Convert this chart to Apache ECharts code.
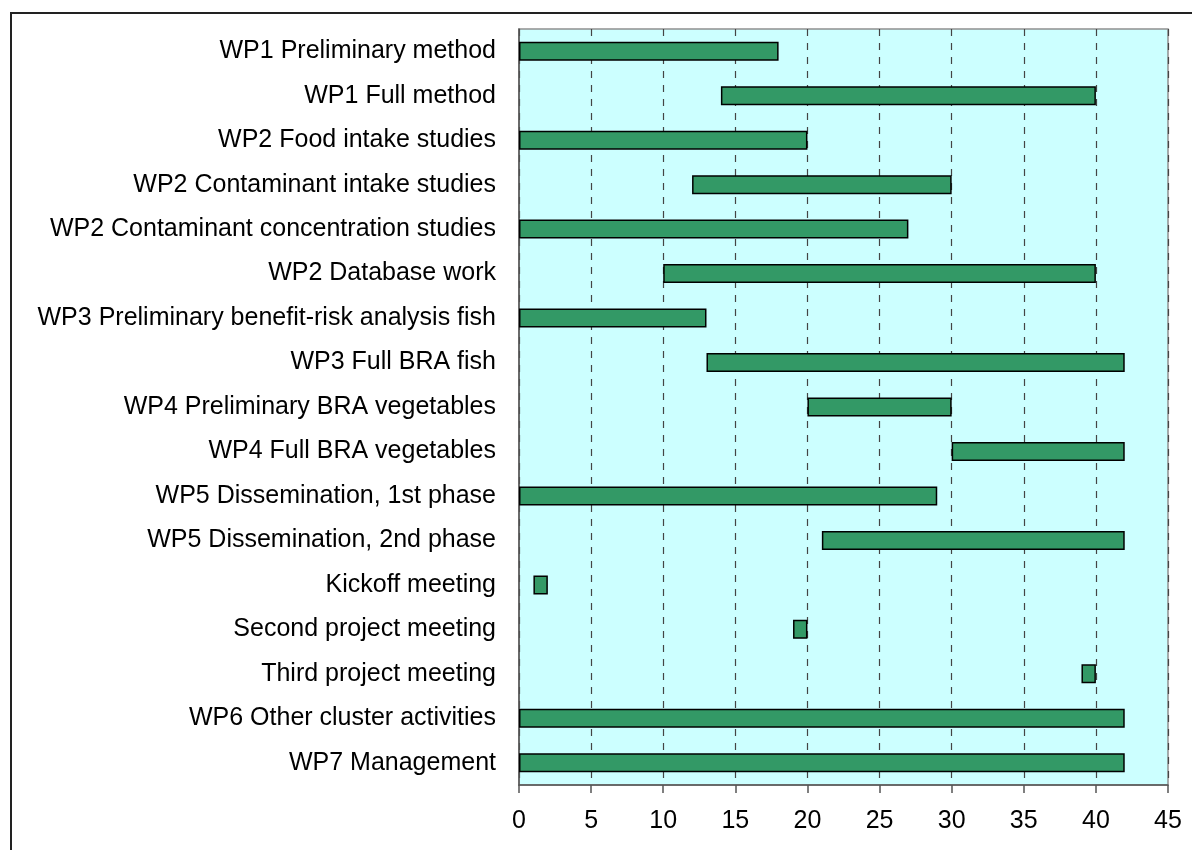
<!DOCTYPE html>
<html>
<head>
<meta charset="utf-8">
<script src="https://cdn.jsdelivr.net/npm/echarts@6/dist/echarts.min.js"></script>
<style>
  html, body { margin: 0; padding: 0; background: #fff; }
  #main { width: 1192px; height: 850px; }
</style>
</head>
<body>
<div id="main"></div>
<script>
// tasks (top to bottom) with start / end month
var tasks = [
    'WP1 Preliminary method',
    'WP1 Full method',
    'WP2 Food intake studies',
    'WP2 Contaminant intake studies',
    'WP2 Contaminant concentration studies',
    'WP2 Database work',
    'WP3 Preliminary benefit-risk analysis fish',
    'WP3 Full BRA fish',
    'WP4 Preliminary BRA vegetables',
    'WP4 Full BRA vegetables',
    'WP5 Dissemination, 1st phase',
    'WP5 Dissemination, 2nd phase',
    'Kickoff meeting',
    'Second project meeting',
    'Third project meeting',
    'WP6 Other cluster activities',
    'WP7 Management'
];
var startMonth = [0, 14, 0, 12, 0, 10, 0, 13, 20, 30, 0, 21, 1, 19, 39, 0, 0];
var endMonth = [18, 40, 20, 30, 27, 40, 13, 42, 30, 42, 29, 42, 2, 20, 40, 42, 42];
var xTicks = [0, 5, 10, 15, 20, 25, 30, 35, 40, 45];

var duration = endMonth.map(function (e, i) { return e - startMonth[i]; });

var myChart = echarts.init(document.getElementById('main'));
myChart.setOption({
    animation: false,
    backgroundColor: '#fff',
    textStyle: { fontFamily: 'Liberation Sans, Arial, sans-serif' },
    graphic: [{
        type: 'rect',
        z: -10,
        shape: { x: 11, y: 13, width: 1250, height: 900 },
        style: { fill: 'none', stroke: '#222', lineWidth: 2 }
    }],
    grid: {
        left: 519, top: 29, right: 24, bottom: 65,
        show: true,
        backgroundColor: '#CCFFFF',
        borderColor: '#909090',
        borderWidth: 1.5
    },
    xAxis: {
        type: 'value',
        min: xTicks[0],
        max: xTicks[xTicks.length - 1],
        interval: 5,
        axisLine: { show: true, lineStyle: { color: '#555', width: 1.5 } },
        axisTick: { show: true, length: 8, lineStyle: { color: '#555', width: 1.5 } },
        axisLabel: { color: '#000', fontSize: 25, margin: 24 },
        splitLine: { show: true, lineStyle: { color: '#444', type: [7, 7], width: 1.2 } }
    },
    yAxis: {
        type: 'category',
        inverse: true,
        data: tasks,
        axisLine: { show: true, lineStyle: { color: '#555', width: 1.5 } },
        axisTick: { show: false },
        axisLabel: { color: '#000', fontSize: 25, margin: 23 },
        splitLine: { show: false }
    },
    series: [
        {
            // invisible offset
            type: 'bar',
            stack: 'gantt',
            silent: true,
            itemStyle: { color: 'transparent' },
            data: startMonth,
            barWidth: 19
        },
        {
            type: 'bar',
            stack: 'gantt',
            itemStyle: { color: '#339966', borderColor: '#000', borderWidth: 1.5 },
            data: duration,
            barWidth: 19
        }
    ]
});
</script>
</body>
</html>
